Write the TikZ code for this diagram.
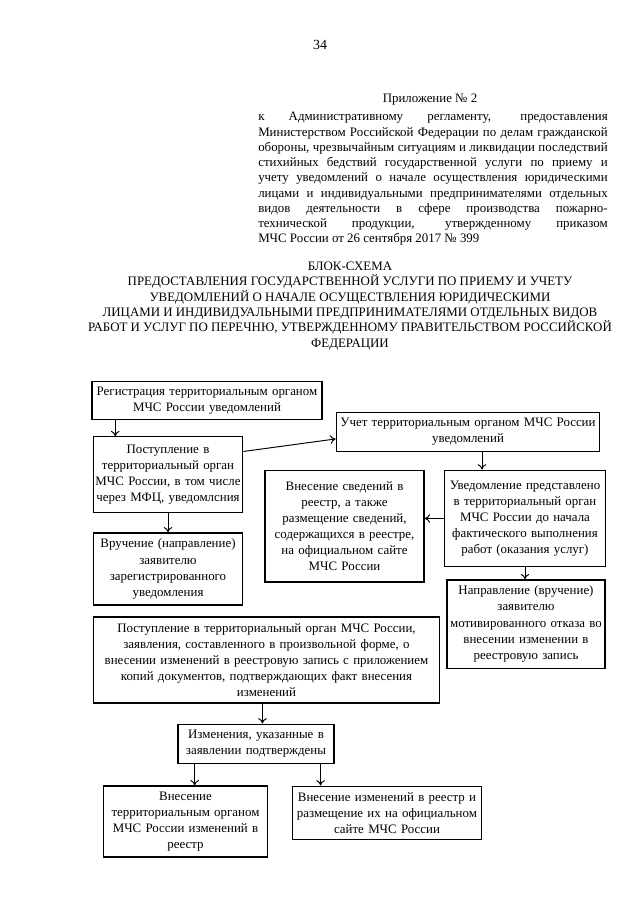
\documentclass[tikz,border=0pt]{standalone}
\usepackage{fontspec}
\setmainfont{Liberation Serif}
\usepackage{tikz}
\usetikzlibrary{arrows, arrows.meta}
\tikzstyle{block} = [rectangle, draw, line width=1.1pt, align=center,
    inner sep=2pt, font=\fontsize{12}{15}\selectfont]
\tikzstyle{line} = [draw, line width=0.9pt, -{To[length=5pt,width=8pt]}]
\tikzstyle{txt} = [inner sep=0pt, font=\fontsize{12}{14.2}\selectfont]

\begin{document}
\begin{tikzpicture}[x=0.93pt, y=-0.93pt]
                \useasboundingbox (0,0) rectangle (640,905);
                % header
                \node [txt, font=\fontsize{13}{14}\selectfont] at (320,45) (pagenum) {34};
                \node [txt] at (430,100) (annex) {Приложение № 2};
                \node [txt, text width=325pt, align=justify] at (433,179) (ref) {\hyphenpenalty=10000
                    к Административному регламенту, предоставления\linebreak
                    Министерством Российской Федерации по делам гражданской\linebreak
                    обороны, чрезвычайным ситуациям и ликвидации последствий\linebreak
                    стихийных бедствий государственной услуги по приему и\linebreak
                    учету уведомлений о начале осуществления юридическими\linebreak
                    лицами и индивидуальными предпринимателями отдельных\linebreak
                    видов деятельности в сфере производства пожарно-\linebreak
                    технической продукции, утвержденному приказом\linebreak
                    МЧС России от 26 сентября 2017 № 399};
                \node [txt, align=center] at (350,306) (title) {БЛОК-СХЕМА\\
                    ПРЕДОСТАВЛЕНИЯ ГОСУДАРСТВЕННОЙ УСЛУГИ ПО ПРИЕМУ И УЧЕТУ\\
                    УВЕДОМЛЕНИЙ О НАЧАЛЕ ОСУЩЕСТВЛЕНИЯ ЮРИДИЧЕСКИМИ\\
                    ЛИЦАМИ И ИНДИВИДУАЛЬНЫМИ ПРЕДПРИНИМАТЕЛЯМИ ОТДЕЛЬНЫХ ВИДОВ\\
                    РАБОТ И УСЛУГ ПО ПЕРЕЧНЮ, УТВЕРЖДЕННОМУ ПРАВИТЕЛЬСТВОМ РОССИЙСКОЙ\\
                    ФЕДЕРАЦИИ};
                % blocks
                \node [block, text width=210pt, minimum height=36pt] at (207,400.5) (reg)
                    {Регистрация территориальным органом\\ МЧС России уведомлений};
                \node [block, text width=135pt, minimum height=70pt] at (168,474.5) (post)
                    {Поступление в\\ территориальный орган\\ МЧС России, в том числе\\ через МФЦ, уведомлсния};
                \node [block, text width=135pt, minimum height=67pt] at (168,569) (vruch)
                    {Вручение (направление)\\ заявителю\\ зарегистрированного\\ уведомления};
                \node [block, text width=241pt, minimum height=37pt] at (468,432) (uchet)
                    {Учет территориальным органом МЧС России\\ уведомлений};
                \node [block, text width=144pt, minimum height=104pt] at (344.5,526) (vnes)
                    {Внесение сведений в\\ реестр, а также\\ размещение сведений,\\ содержащихся в реестре,\\ на официальном сайте\\ МЧС России};
                \node [block, text width=145pt, minimum height=90pt] at (525,518.5) (uved)
                    {Уведомление представлено\\ в территориальный орган\\ МЧС России до начала\\ фактического выполнения\\ работ (оказания услуг)};
                \node [block, text width=143pt, minimum height=82pt] at (526,624) (napr)
                    {Направление (вручение)\\ заявителю\\ мотивированного отказа во\\ внесении изменении в\\ реестровую запись};
                \node [block, text width=318pt, minimum height=80pt] at (266.5,660) (post2)
                    {Поступление в территориальный орган МЧС России,\\ заявления, составленного в произвольной форме, о\\ внесении изменений в реестровую запись с приложением\\ копий документов, подтверждающих факт внесения\\ изменений};
                \node [block, text width=141pt, minimum height=37pt] at (256,744) (izm)
                    {Изменения, указанные в\\ заявлении подтверждены};
                \node [block, text width=149pt, minimum height=66pt] at (185.5,821.5) (vnes2)
                    {Внесение\\ территориальным органом\\ МЧС России изменений в\\ реестр};
                \node [block, text width=172pt, minimum height=50pt] at (387,813) (vnes3)
                    {Внесение изменений в реестр и\\ размещение их на официальном\\ сайте МЧС России};
                % connectors
                \path [line] ([xshift=21pt]post.north west |- reg.south) -- ([xshift=21pt]post.north west);
                \path [line] (post.17) -- (uchet.183);
                \path [line] (post.south) -- (vruch.north);
                \path [line] ([xshift=13pt]uchet.south) -- ([xshift=13pt]uchet.south |- uved.north);
                \path [line] (uved.west) -- (vnes.east |- uved.west);
                \path [line] (uved.south) -- (uved.south |- napr.north);
                \path [line] ([xshift=6pt]izm.north |- post2.south) -- ([xshift=6pt]izm.north);
                \path [line] ([xshift=16pt]izm.south west) -- ([xshift=16pt]izm.south west |- vnes2.north);
                \path [line] ([xshift=-13pt]izm.south east) -- ([xshift=-13pt]izm.south east |- vnes3.north);
            \end{tikzpicture}
\end{document}
